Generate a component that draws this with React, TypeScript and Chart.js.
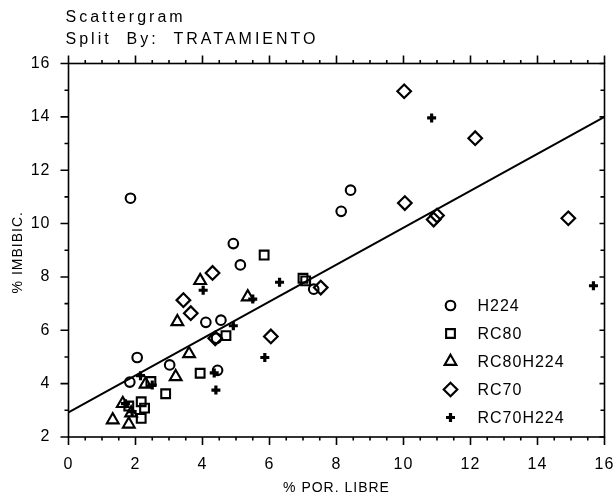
import { useEffect, useRef } from 'react';
import { Chart, registerables } from 'chart.js';

Chart.register(...registerables);

const FONT = '"Liberation Sans", Arial, sans-serif';

const titleLines = ['Scattergram', 'Split  By:  TRATAMIENTO'];
const xTitle = '% POR. LIBRE';
const yTitle = '% IMBIBIC.';
const seriesNames = ['H224', 'RC80', 'RC80H224', 'RC70', 'RC70H224'];

const h224X = [1.85, 2.05, 1.83, 3.02, 4.1, 4.55, 4.45, 4.42, 4.92, 5.13, 7.32, 8.14, 8.42];
const h224Y = [10.95, 4.98, 4.06, 4.7, 6.3, 6.38, 4.5, 5.7, 9.25, 8.45, 7.54, 10.46, 11.25];
const rc80X = [1.8, 2.17, 2.27, 2.17, 2.46, 2.9, 3.93, 4.7, 5.84, 7.0, 7.08];
const rc80Y = [3.16, 3.32, 3.08, 2.7, 4.08, 3.62, 4.39, 5.8, 8.82, 7.95, 7.85];
const rc80h224X = [1.32, 1.8, 1.62, 1.87, 2.3, 3.2, 3.6, 3.25, 3.93, 5.35];
const rc80h224Y = [2.64, 2.48, 3.25, 2.9, 3.98, 4.26, 5.12, 6.32, 7.86, 7.25];
const rc70X = [3.43, 3.65, 4.3, 4.38, 6.04, 7.53, 10.02, 12.14, 10.04, 10.9, 11.0, 14.92];
const rc70Y = [7.13, 6.64, 8.15, 5.7, 5.77, 7.6, 14.96, 13.2, 10.77, 10.15, 10.3, 10.2];
const rc70h224X = [1.7, 1.9, 2.15, 2.5, 4.02, 4.35, 4.4, 4.92, 5.5, 5.86, 6.3, 10.84, 15.67];
const rc70h224Y = [3.25, 2.95, 4.3, 3.95, 7.5, 4.4, 3.76, 6.17, 7.17, 4.98, 7.8, 13.96, 7.67];
const fitX = [0, 16];
const fitY = [2.92, 14.0];

const xMin = 0, xMax = 16, xStep = 2, xMinorStep = 0.5;
const yMin = 2, yMax = 16, yStep = 2, yMinorStep = 1;

const toPts = (xs: number[], ys: number[]) => xs.map((x, i) => ({ x, y: ys[i] }));

const styles = [
  { pointStyle: 'circle', radius: 4.8, width: 2.1 },
  { pointStyle: 'rect', radius: 6.2, width: 2.1 },
  { pointStyle: 'triangle', radius: 6.8, width: 2.1 },
  { pointStyle: 'rectRot', radius: 6.8, width: 2.2 },
  { pointStyle: 'cross', radius: 4.5, width: 3.2 },
];

function drawMarker(ctx: CanvasRenderingContext2D, style: string, x: number, y: number, r: number) {
  ctx.beginPath();
  if (style === 'circle') {
    ctx.arc(x, y, r, 0, Math.PI * 2);
  } else if (style === 'rect') {
    const s = Math.SQRT1_2 * r;
    ctx.rect(x - s, y - s, 2 * s, 2 * s);
  } else if (style === 'triangle') {
    ctx.moveTo(x, y - r);
    ctx.lineTo(x + r * Math.sin(Math.PI / 3), y + r * 0.5);
    ctx.lineTo(x - r * Math.sin(Math.PI / 3), y + r * 0.5);
    ctx.closePath();
  } else if (style === 'rectRot') {
    ctx.moveTo(x - r, y);
    ctx.lineTo(x, y - r);
    ctx.lineTo(x + r, y);
    ctx.lineTo(x, y + r);
    ctx.closePath();
  } else if (style === 'cross') {
    ctx.moveTo(x, y - r);
    ctx.lineTo(x, y + r);
    ctx.moveTo(x - r, y);
    ctx.lineTo(x + r, y);
  }
  ctx.stroke();
}

const decor = {
  id: 'decor',
  beforeDraw(chart: any) {
    (chart.ctx as any).letterSpacing = '1px';
  },
  afterDraw(chart: any) {
    const { ctx, chartArea: a, scales } = chart;
    const x = scales.x;
    const y = scales.y;
    ctx.save();
    ctx.strokeStyle = '#000';
    ctx.fillStyle = '#000';
    ctx.lineWidth = 1.6;
    ctx.strokeRect(a.left, a.top, a.right - a.left, a.bottom - a.top);
    ctx.beginPath();
    for (let v = xMin; v <= xMax + 1e-6; v += xMinorStep) {
      const px = x.getPixelForValue(v);
      const major = Math.abs(v / xStep - Math.round(v / xStep)) < 1e-6;
      const len = major ? 8 : 3.5;
      ctx.moveTo(px, a.bottom);
      ctx.lineTo(px, a.bottom + len);
      ctx.moveTo(px, a.top);
      ctx.lineTo(px, a.top - len);
    }
    for (let v = yMin; v <= yMax + 1e-6; v += yMinorStep) {
      const py = y.getPixelForValue(v);
      const major = Math.abs(v / yStep - Math.round(v / yStep)) < 1e-6;
      ctx.moveTo(a.left, py);
      ctx.lineTo(a.left - (major ? 8 : 4), py);
      ctx.moveTo(a.right, py);
      ctx.lineTo(a.right - (major ? 5 : 4), py);
    }
    ctx.stroke();

    // titles
    ctx.textAlign = 'left';
    ctx.textBaseline = 'middle';
    ctx.font = `16px ${FONT}`;
    (ctx as any).letterSpacing = '3px';
    ctx.fillText(titleLines[0], a.left - 3, 18);
    ctx.fillText(titleLines[1], a.left - 3, 40);

    // axis titles
    (ctx as any).letterSpacing = '1px';
    ctx.font = `14px ${FONT}`;
    ctx.textAlign = 'center';
    ctx.fillText(xTitle, (a.left + a.right) / 2, 488);
    ctx.save();
    ctx.translate(18, (a.top + a.bottom) / 2 + 2);
    ctx.rotate(-Math.PI / 2);
    ctx.fillText(yTitle, 0, 0);
    ctx.restore();

    // legend
    ctx.font = `16px ${FONT}`;
    ctx.textAlign = 'left';
    const lx = a.left + 382;
    const ly0 = a.top + 242;
    seriesNames.forEach((name, i) => {
      const ly = ly0 + i * 28;
      const st = styles[i];
      ctx.lineWidth = st.width;
      drawMarker(ctx, st.pointStyle, lx, ly, st.radius);
      ctx.fillText(name, lx + 27, ly + 1);
    });
    ctx.restore();
  },
};

export default function App() {
  const ref = useRef<HTMLCanvasElement | null>(null);
  useEffect(() => {
    if (!ref.current) return;
    const series = [
      [h224X, h224Y],
      [rc80X, rc80Y],
      [rc80h224X, rc80h224Y],
      [rc70X, rc70Y],
      [rc70h224X, rc70h224Y],
    ];
    const datasets: any[] = series.map(([xs, ys], i) => ({
      type: 'scatter',
      label: seriesNames[i],
      data: toPts(xs, ys),
      pointStyle: styles[i].pointStyle,
      pointRadius: styles[i].radius,
      pointBorderWidth: styles[i].width,
      borderWidth: styles[i].width,
      borderColor: '#000',
      backgroundColor: 'rgba(0,0,0,0)',
      pointBackgroundColor: 'rgba(0,0,0,0)',
      pointBorderColor: '#000',
      showLine: false,
    }));
    datasets.push({
      type: 'line',
      label: 'fit',
      data: toPts(fitX, fitY),
      borderColor: '#000',
      borderWidth: 2,
      pointRadius: 0,
      showLine: true,
      fill: false,
      tension: 0,
    });
    const chart = new Chart(ref.current, {
      type: 'scatter',
      data: { datasets },
      options: {
        animation: false,
        responsive: false,
        events: [],
        layout: { padding: { top: 63.5, right: 11.5, left: 0, bottom: 0 } },
        plugins: { legend: { display: false }, tooltip: { enabled: false }, title: { display: false } },
        scales: {
          x: {
            type: 'linear',
            position: 'bottom',
            min: xMin,
            max: xMax,
            grid: { display: false },
            border: { display: false },
            ticks: {
              stepSize: xStep,
              color: '#000',
              font: { family: FONT, size: 16 },
              padding: 10,
              maxRotation: 0,
              autoSkip: false,
            },
            afterFit: (s: any) => {
              s.height = 60;
              s.paddingLeft = 0;
              s.paddingRight = 0;
            },
          },
          y: {
            type: 'linear',
            position: 'left',
            min: yMin,
            max: yMax,
            grid: { display: false },
            border: { display: false },
            ticks: {
              stepSize: yStep,
              color: '#000',
              font: { family: FONT, size: 16 },
              padding: 10,
              autoSkip: false,
            },
            afterFit: (s: any) => {
              s.width = 68.5;
              s.paddingTop = 0;
              s.paddingBottom = 0;
            },
          },
        },
      } as any,
      plugins: [decor],
    });
    return () => chart.destroy();
  }, []);
  return (
    <canvas
      ref={ref}
      width={616}
      height={497}
      style={{ position: 'absolute', left: 0, top: 0, display: 'block' }}
    />
  );
}
